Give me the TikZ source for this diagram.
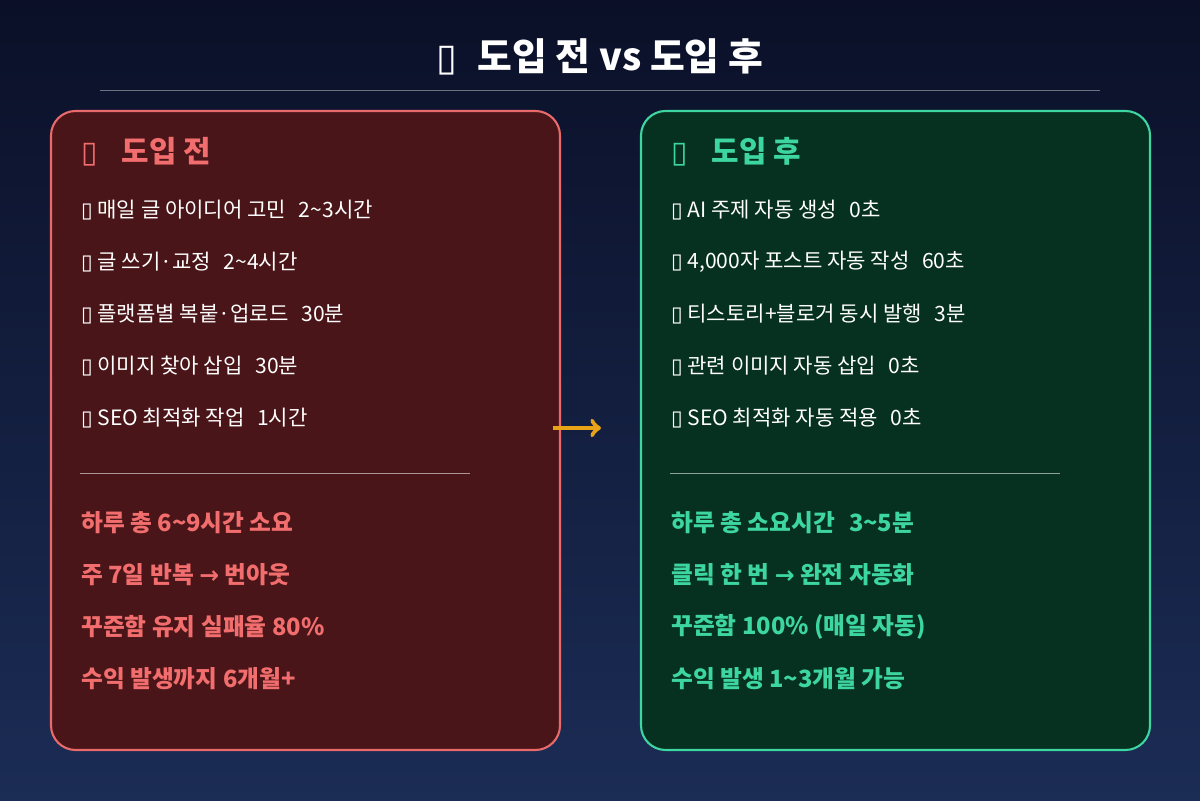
\documentclass[tikz,border=0pt]{standalone}
\usepackage{fontspec}
\setmainfont{Noto Sans CJK KR}
\newfontfamily\symfont{DejaVu Sans}
\usetikzlibrary{positioning}
\definecolor{bgtop}{HTML}{0B1028}
\definecolor{bgbot}{HTML}{1B2C55}
\definecolor{redfill}{HTML}{4A1518}
\definecolor{redline}{HTML}{E86A6A}
\definecolor{redtext}{HTML}{F26D6D}
\definecolor{greenfill}{HTML}{06301F}
\definecolor{greenline}{HTML}{3DD6A0}
\definecolor{greentext}{HTML}{3DD6A0}
\definecolor{gold}{HTML}{E8A317}
\newcommand{\tofu}{{\symfont\char"25AF}}

\begin{document}
\begin{tikzpicture}[
  panel/.style={rounded corners=14pt, line width=1.2pt},
  item/.style={anchor=west, text=white, font=\fontsize{12}{14}\selectfont},
  summary/.style={anchor=west, font=\bfseries\fontsize{13.5}{16}\selectfont},
  header/.style={anchor=west, font=\bfseries\fontsize{17}{20}\selectfont}]
% background
\shade[top color=bgtop, bottom color=bgbot] (0,0) rectangle (24,16);
\useasboundingbox (0,0) rectangle (24,16);

% title
\node[text=white, font=\bfseries\fontsize{21.5}{26}\selectfont] (title) at (12,14.86) {\tofu{}\hspace{0.3em} 도입 전 vs 도입 후};
\draw[white!40!bgtop] (2,14.2) -- (22,14.2);

% before panel
\draw[panel, fill=redfill, draw=redline] (1.02,1) rectangle (11.2,13.78);
\node[header, text=redtext] (bhead) at (1.5,12.96) {\tofu{}\hspace{0.8em}도입 전};
\node[item] (b1) at (1.5,11.8) {\tofu{} 매일 글 아이디어 고민\hspace{0.6em}2\textasciitilde3시간};
\node[item] (b2) at (1.5,10.76) {\tofu{} 글 쓰기·교정\hspace{0.6em}2\textasciitilde4시간};
\node[item] (b3) at (1.5,9.72) {\tofu{} 플랫폼별 복붙·업로드\hspace{0.6em}30분};
\node[item] (b4) at (1.5,8.68) {\tofu{} 이미지 찾아 삽입\hspace{0.6em}30분};
\node[item] (b5) at (1.5,7.64) {\tofu{} SEO 최적화 작업\hspace{0.6em}1시간};
\draw[white!55!redfill] (1.6,6.54) -- (9.4,6.54);
\node[summary, text=redtext] (bs1) at (1.5,5.54) {하루 총 6\textasciitilde9시간 소요};
\node[summary, text=redtext] (bs2) at (1.5,4.5) {주 7일 반복 {\symfont →} 번아웃};
\node[summary, text=redtext] (bs3) at (1.5,3.46) {꾸준함 유지 실패율 80\%};
\node[summary, text=redtext] (bs4) at (1.5,2.42) {수익 발생까지 6개월+};

% after panel
\draw[panel, fill=greenfill, draw=greenline] (12.82,1) rectangle (23,13.78);
\node[header, text=greentext] (ahead) at (13.3,12.96) {\tofu{}\hspace{0.8em}도입 후};
\node[item] (a1) at (13.3,11.8) {\tofu{} AI 주제 자동 생성\hspace{0.6em}0초};
\node[item] (a2) at (13.3,10.76) {\tofu{} 4,000자 포스트 자동 작성\hspace{0.6em}60초};
\node[item] (a3) at (13.3,9.72) {\tofu{} 티스토리+블로거 동시 발행\hspace{0.6em}3분};
\node[item] (a4) at (13.3,8.68) {\tofu{} 관련 이미지 자동 삽입\hspace{0.6em}0초};
\node[item] (a5) at (13.3,7.64) {\tofu{} SEO 최적화 자동 적용\hspace{0.6em}0초};
\draw[white!55!greenfill] (13.4,6.54) -- (21.2,6.54);
\node[summary, text=greentext] (as1) at (13.3,5.54) {하루 총 소요시간\hspace{0.6em}3\textasciitilde5분};
\node[summary, text=greentext] (as2) at (13.3,4.5) {클릭 한 번 {\symfont →} 완전 자동화};
\node[summary, text=greentext] (as3) at (13.3,3.46) {꾸준함 100\% (매일 자동)};
\node[summary, text=greentext] (as4) at (13.3,2.42) {수익 발생 1\textasciitilde3개월 가능};

% arrow
\coordinate (arrfrom) at (11.06,7.44);
\coordinate (arrto) at (12.02,7.44);
\draw[->, gold, line width=2.6pt] (arrfrom) -- (arrto);
\end{tikzpicture}
\end{document}
